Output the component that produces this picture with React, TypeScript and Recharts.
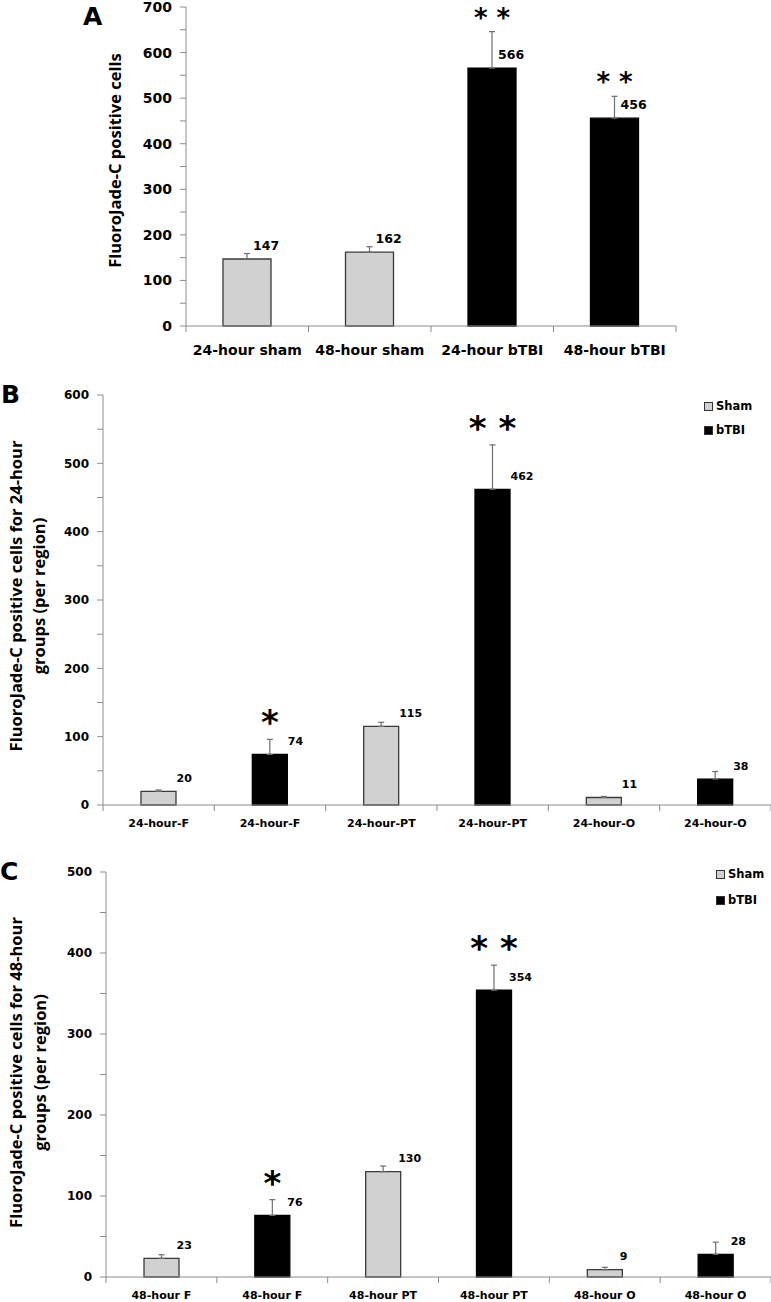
import React from 'react'
import { BarChart, Bar, XAxis, YAxis, ErrorBar, Cell, Legend } from 'recharts'

const FONT = '"DejaVu Sans", Verdana, sans-serif'
const TITLE_FONT = '"Open Sans", "DejaVu Sans", sans-serif'
const AXIS = '#8c8c8c'
const SHAM = '#d1d1d1'
const BTBI = '#000000'

// Panel A - totals
const groupsA = ['24-hour sham', '48-hour sham', '24-hour bTBI', '48-hour bTBI']
const valuesA = [147, 162, 566, 456]
const errorsA = [12, 12, 80, 48]
const starsA = ['', '', '* *', '* *']
const kindsA = ['sham', 'sham', 'btbi', 'btbi']
const ticksA = [0, 50, 100, 150, 200, 250, 300, 350, 400, 450, 500, 550, 600, 650, 700]

// Panel B - 24-hour groups per region
const regionsB = ['24-hour-F', '24-hour-F', '24-hour-PT', '24-hour-PT', '24-hour-O', '24-hour-O']
const valuesB = [20, 74, 115, 462, 11, 38]
const errorsB = [2, 22, 6, 65, 1.5, 11]
const starsB = ['', '*', '', '* *', '', '']
const kindsB = ['sham', 'btbi', 'sham', 'btbi', 'sham', 'btbi']
const ticksB = [0, 50, 100, 150, 200, 250, 300, 350, 400, 450, 500, 550, 600]

// Panel C - 48-hour groups per region
const regionsC = ['48-hour F', '48-hour F', '48-hour PT', '48-hour PT', '48-hour O', '48-hour O']
const valuesC = [23, 76, 130, 354, 9, 28]
const errorsC = [4.5, 19.5, 7, 31, 3, 15]
const starsC = ['', '*', '', '* *', '', '']
const kindsC = ['sham', 'btbi', 'sham', 'btbi', 'sham', 'btbi']
const ticksC = [0, 50, 100, 150, 200, 250, 300, 350, 400, 450, 500]

const legendNames = ['Sham', 'bTBI']

const buildRows = (names: string[], values: number[], errors: number[], stars: string[], kinds: string[]) =>
  names.map((name, i) => ({ name, value: values[i], err: [0, errors[i]], stars: stars[i], kind: kinds[i] }))

const dataA = buildRows(groupsA, valuesA, errorsA, starsA, kindsA)
const dataB = buildRows(regionsB, valuesB, errorsB, starsB, kindsB)
const dataC = buildRows(regionsC, valuesC, errorsC, starsC, kindsC)

type PanelProps = {
  letter: string
  letterPos: { left: number; top: number }
  data: any[]
  ticks: number[]
  height: number
  margin: { top: number; right: number; left: number; bottom: number }
  yWidth: number
  xHeight: number
  barSize: number
  yTickSize: number
  xTickSize: number
  xTickDy: number
  valueSize: number
  valueDx: number
  valueDy: number
  starSize: number
  starGap: number
  title: string[]
  titleX: number[]
  titleShift: number
  legend?: { left: number; top: number; row: number }
}

function Panel(p: PanelProps) {
  const n = p.data.length

  // category labels plus Excel-style tick marks on the category boundaries
  const XTick = (props: any) => {
    const { x, y, payload, index } = props
    const half = payload?.offset ?? 0
    return (
      <g>
        <line x1={x - half} x2={x - half} y1={y} y2={y + 6} stroke={AXIS} />
        {index === n - 1 && <line x1={x + half} x2={x + half} y1={y} y2={y + 6} stroke={AXIS} />}
        <text x={x} y={y + p.xTickDy} textAnchor="middle" dominantBaseline="central"
          fontFamily={FONT} fontWeight={700} fontSize={p.xTickSize} fill="#000">
          {payload.value}
        </text>
      </g>
    )
  }

  const renderLabel = (props: any) => {
    const { x, y, width, height, index } = props
    const row = p.data[index]
    const perUnit = row.value ? height / row.value : 0
    const errTop = y - row.err[1] * perUnit
    const cx = x + width / 2
    return (
      <g>
        <text x={cx + p.valueDx} y={y - p.valueDy} dominantBaseline="central" textAnchor="start"
          fontFamily={FONT} fontWeight={700} fontSize={p.valueSize} fill="#000">
          {row.value}
        </text>
        {row.stars && (
          <text x={cx} y={errTop - p.starGap} textAnchor="middle"
            fontFamily={FONT} fontWeight={700} fontSize={p.starSize} fill="#000">
            {row.stars}
          </text>
        )}
      </g>
    )
  }

  const renderTitle = (props: any) => {
    const vb = props.viewBox || {}
    const cy = (vb.y ?? 0) + (vb.height ?? 0) / 2 + p.titleShift
    return (
      <g>
        {p.title.map((line, i) => (
          <text key={i} x={p.titleX[i]} y={cy} textAnchor="middle" dominantBaseline="central"
            transform={`rotate(-90, ${p.titleX[i]}, ${cy})`}
            fontFamily={TITLE_FONT} fontWeight={700} fontSize={16.5} fill="#000">
            {line}
          </text>
        ))}
      </g>
    )
  }

  const renderLegend = () => (
    <div style={{ fontFamily: FONT, fontWeight: 700, fontSize: 11.5, color: '#000' }}>
      {legendNames.map((name, i) => (
        <div key={name} style={{ display: 'flex', alignItems: 'center', height: p.legend!.row }}>
          <span style={{
            display: 'inline-block', width: 9, height: 9, boxSizing: 'border-box',
            background: i === 0 ? SHAM : BTBI, border: '1px solid #333', marginRight: 3,
          }} />
          <span>{name}</span>
        </div>
      ))}
    </div>
  )

  return (
    <div style={{ position: 'relative', width: 771, height: p.height }}>
      <div style={{
        position: 'absolute', left: p.letterPos.left, top: p.letterPos.top, fontFamily: FONT,
        fontWeight: 700, fontSize: 25, lineHeight: '25px', zIndex: 2,
      }}>
        {p.letter}
      </div>
      <BarChart width={771} height={p.height} data={p.data} margin={p.margin} barSize={p.barSize}>
        <XAxis dataKey="name" height={p.xHeight} axisLine={{ stroke: AXIS }} tickLine={false}
          tickSize={0} tickMargin={0} interval={0} tick={<XTick />} />
        <YAxis width={p.yWidth} domain={[0, p.ticks[p.ticks.length - 1]]} ticks={p.ticks}
          interval={0} axisLine={{ stroke: AXIS }} tickLine={{ stroke: AXIS }} tickSize={6} tickMargin={8}
          tickFormatter={(v: number) => (v % 100 === 0 ? String(v) : '')}
          tick={{ fontFamily: FONT, fontWeight: 700, fontSize: p.yTickSize, fill: '#000' }}
          label={{ content: renderTitle }} />
        {p.legend && (
          <Legend layout="vertical" align="center" verticalAlign="middle" content={renderLegend}
            wrapperStyle={{ left: p.legend.left, top: p.legend.top, width: 80, height: 2 * p.legend.row }} />
        )}
        <Bar dataKey="value" isAnimationActive={false} label={renderLabel}>
          {p.data.map((row, i) => (
            <Cell key={i} fill={row.kind === 'sham' ? SHAM : BTBI}
              stroke={row.kind === 'sham' ? '#3a3a3a' : BTBI} strokeWidth={1.3} />
          ))}
          <ErrorBar dataKey="err" width={3} stroke="#6e6e6e" strokeWidth={1.2} />
        </Bar>
      </BarChart>
    </div>
  )
}

export default function App() {
  return (
    <div style={{ position: 'absolute', left: 0, top: 0, width: 771, height: 1302, background: '#fff' }}>
      <Panel letter="A" letterPos={{ left: 83, top: 4 }} data={dataA} ticks={ticksA} height={360}
        margin={{ top: 7, right: 95, left: 0, bottom: 0 }} yWidth={186} xHeight={34} barSize={48}
        yTickSize={14} xTickSize={14} xTickDy={24} valueSize={12.5} valueDx={6} valueDy={14}
        starSize={26} starGap={5} title={['FluoroJade-C positive cells']} titleX={[114]} titleShift={-6} />
      <Panel letter="B" letterPos={{ left: 1, top: 22 }} data={dataB} ticks={ticksB} height={470}
        margin={{ top: 35, right: 0, left: 0, bottom: 0 }} yWidth={103} xHeight={25} barSize={35}
        yTickSize={12} xTickSize={11} xTickDy={18} valueSize={11} valueDx={18} valueDy={12.5}
        starSize={34} starGap={5}
        title={['FluoroJade-C positive cells for 24-hour', 'groups (per region)']} titleX={[15, 38]} titleShift={-4}
        legend={{ left: 704, top: 34, row: 24 }} />
      <Panel letter="C" letterPos={{ left: 0, top: 29 }} data={dataC} ticks={ticksC} height={472}
        margin={{ top: 42, right: 0, left: 0, bottom: 0 }} yWidth={106} xHeight={25} barSize={35}
        yTickSize={12} xTickSize={11} xTickDy={18} valueSize={11} valueDx={15} valueDy={13}
        starSize={34} starGap={5}
        title={['FluoroJade-C positive cells for 48-hour', 'groups (per region)']} titleX={[15, 39]} titleShift={-2}
        legend={{ left: 716, top: 31, row: 26 }} />
    </div>
  )
}
